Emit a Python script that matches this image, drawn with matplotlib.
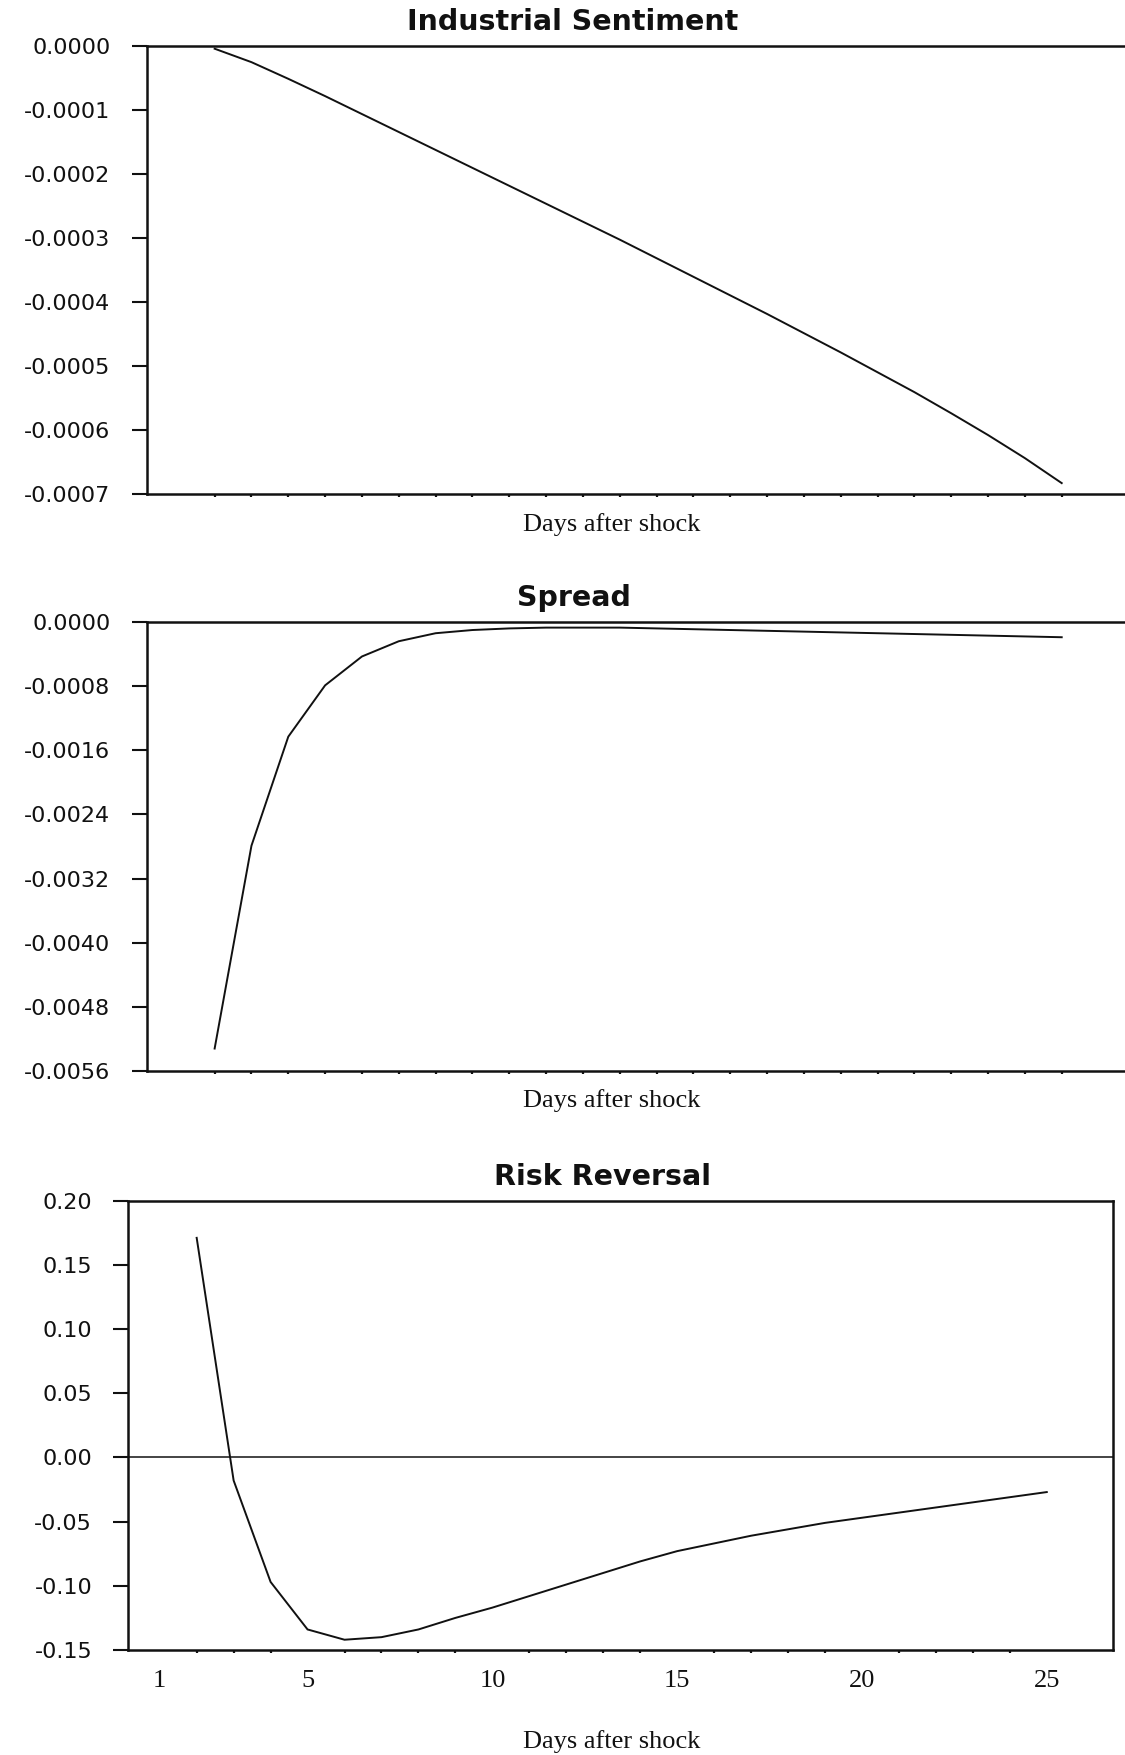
import matplotlib
matplotlib.use("Agg")
import matplotlib.pyplot as plt
from matplotlib.ticker import FixedLocator, FormatStrFormatter, NullFormatter, NullLocator

plt.rcParams['axes.unicode_minus'] = False

# Impulse responses, one value per day after the shock
days = list(range(2, 26))

industrial = [-0.000005, -0.000026, -0.000052, -0.000079, -0.000107, -0.000135,
              -0.000163, -0.000191, -0.000219, -0.000247, -0.000275, -0.000303,
              -0.000332, -0.000361, -0.000390, -0.000419, -0.000449, -0.000479,
              -0.000510, -0.000541, -0.000574, -0.000608, -0.000644, -0.000683]

spread = [-0.00532, -0.00279, -0.00143, -0.00079, -0.00043, -0.00024,
          -0.00014, -0.00010, -0.00008, -0.00007, -0.00007, -0.00007,
          -0.00008, -0.00009, -0.00010, -0.00011, -0.00012, -0.00013,
          -0.00014, -0.00015, -0.00016, -0.00017, -0.00018, -0.00019]

risk_reversal = [0.171, -0.018, -0.097, -0.134, -0.142, -0.140,
                 -0.134, -0.125, -0.117, -0.108, -0.099, -0.090,
                 -0.081, -0.073, -0.067, -0.061, -0.056, -0.051,
                 -0.047, -0.043, -0.039, -0.035, -0.031, -0.027]

titles = ["Industrial Sentiment", "Spread", "Risk Reversal"]
x_title = "Days after shock"
day_labels = [1, 5, 10, 15, 20, 25]

industrial_ticks = [0.0, -0.0001, -0.0002, -0.0003, -0.0004, -0.0005, -0.0006, -0.0007]
spread_ticks = [0.0, -0.0008, -0.0016, -0.0024, -0.0032, -0.0040, -0.0048, -0.0056]
risk_ticks = [0.20, 0.15, 0.10, 0.05, 0.00, -0.05, -0.10, -0.15]

W, H = 1125, 1755
fig = plt.figure(figsize=(W / 100, H / 100), dpi=100)


def box(left, top, right, bottom):
    return [left / W, 1 - bottom / H, (right - left) / W, (bottom - top) / H]


def fx(px):
    return px / W


def fy(py):
    return 1 - py / H


INK = "#111111"
XLIM = (0.15, 26.8)

panels = [
    dict(series=industrial, ticks=industrial_ticks, fmt="%.4f",
         rect=box(146.5, 45.5, 1128, 494), title_xy=(573, 30),
         label_y=531.5, zero=False, right=False),
    dict(series=spread, ticks=spread_ticks, fmt="%.4f",
         rect=box(146.5, 622, 1128, 1071), title_xy=(574, 606.5),
         label_y=1107, zero=False, right=False),
    dict(series=risk_reversal, ticks=risk_ticks, fmt="%.2f",
         rect=box(128.3, 1200.6, 1113.3, 1650), title_xy=(603, 1185),
         label_y=1748, zero=True, right=True),
]

for i, p in enumerate(panels):
    ax = fig.add_axes(p["rect"])
    ax.plot(days, p["series"], color=INK, lw=1.4, solid_joinstyle="miter")
    if p["zero"]:
        ax.axhline(0.0, color=INK, lw=1.1)

    ax.set_xlim(*XLIM)
    ax.set_ylim(min(p["ticks"]), max(p["ticks"]))

    for side in ("left", "top", "bottom", "right"):
        ax.spines[side].set_linewidth(1.8)
        ax.spines[side].set_color(INK)
    ax.spines["right"].set_visible(p["right"])

    # y axis: long outward ticks, plain hyphen minus
    ax.yaxis.set_major_locator(FixedLocator(p["ticks"]))
    ax.yaxis.set_major_formatter(FormatStrFormatter(p["fmt"]))
    ax.tick_params(axis="y", which="major", direction="out", length=11,
                   width=1.5, color=INK, pad=15, labelsize=16, labelcolor=INK)
    for lab in ax.get_yticklabels():
        lab.set_family("DejaVu Sans")

    # x axis: a small tick for every day
    ax.xaxis.set_minor_locator(FixedLocator(days))
    ax.xaxis.set_minor_formatter(NullFormatter())
    ax.tick_params(axis="x", which="minor", direction="out", length=2.2,
                   width=1.6, color=INK)
    if i == 2:
        ax.xaxis.set_major_locator(FixedLocator(day_labels))
        ax.set_xticklabels([str(d) for d in day_labels],
                           family="Liberation Serif", fontsize=19, color=INK)
        ax.tick_params(axis="x", which="major", length=0, pad=14.4)
    else:
        ax.xaxis.set_major_locator(NullLocator())

    tx, ty = p["title_xy"]
    fig.text(fx(tx), fy(ty), titles[i], ha="center", va="baseline",
             family="DejaVu Sans", fontweight="bold", fontsize=20.5, color=INK)
    fig.text(fx(612), fy(p["label_y"]), x_title, ha="center", va="baseline",
             family="Liberation Serif", fontsize=19, color=INK)

fig.savefig("out.png", dpi=100, facecolor="white")
